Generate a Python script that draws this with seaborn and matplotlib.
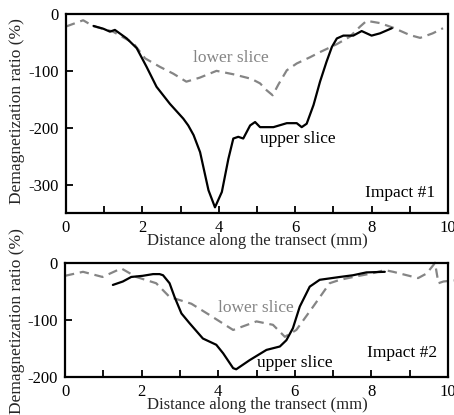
import matplotlib
matplotlib.use("Agg")
import matplotlib.pyplot as plt
import seaborn as sns
import numpy as np

sns.set_style("ticks")
plt.rcParams['font.family'] = ['Liberation Serif', 'DejaVu Serif']

# ---- Impact #1 data ----
upper1_x = [0.72, 0.98, 1.15, 1.28, 1.59, 1.85, 2.11, 2.37, 2.72, 3.07, 3.2, 3.34, 3.51, 3.73, 3.9,
            4.08, 4.25, 4.38, 4.51, 4.64, 4.82, 4.95, 5.08, 5.43, 5.78, 6.04, 6.17, 6.3, 6.48, 6.65,
            6.82, 6.96, 7.09, 7.26, 7.52, 7.74, 8.0, 8.22, 8.53]
upper1_y = [-21, -26, -31, -28, -43, -60, -93, -128, -158, -184, -196, -213, -243, -310, -340,
            -313, -255, -219, -216, -219, -196, -190, -199, -199, -192, -192, -199, -193, -160, -119,
            -84, -58, -43, -38, -38, -30, -38, -34, -25]
lower1_x = [0, 0.45, 0.7, 1.23, 1.76, 2.07, 2.46, 2.81, 3.15, 3.5, 3.94, 4.38, 4.85, 5.08, 5.25,
            5.41, 5.56, 5.78, 6.04, 6.39, 6.65, 7.09, 7.43, 7.7, 7.87, 8.22, 8.56, 9.0, 9.27, 9.6, 9.87]
lower1_y = [-22, -11, -21, -31, -51, -78, -93, -105, -119, -112, -100, -106, -114, -122, -134,
            -143, -124, -99, -87, -76, -67, -53, -40, -22, -12, -16, -24, -37, -42, -34, -25]

# ---- Impact #2 data ----
upper2_x = [1.25, 1.51, 1.73, 2.03, 2.3, 2.47, 2.56, 2.73, 2.86, 3.04, 3.25, 3.6, 3.95, 4.13, 4.39,
            4.47, 4.82, 5.26, 5.61, 5.78, 5.95, 6.13, 6.39, 6.65, 7.18, 7.52, 7.87, 8.35]
upper2_y = [-39, -33, -25, -23, -20, -20, -22, -36, -60, -89, -106, -133, -144, -159, -185,
            -187, -171, -153, -147, -136, -115, -77, -42, -30, -25, -22, -17, -16]
lower2_x = [0, 0.47, 0.98, 1.47, 1.86, 2.38, 2.73, 3.3, 3.78, 4.39, 5.0, 5.43, 5.74, 6.04, 6.48,
            6.91, 7.18, 7.6, 8.0, 8.35, 8.57, 9.22, 9.44, 9.62, 9.66, 9.75, 9.88, 10.15]
lower2_y = [-23, -16, -25, -10, -25, -36, -60, -72, -92, -118, -103, -109, -130, -118, -77,
            -36, -30, -24, -19, -13, -16, -27, -19, -4, 0, -36, -33, -31]

xticks = list(range(0, 11))
xticklabels = ['0', '', '2', '', '4', '', '6', '', '8', '', '10']
yticks1 = [0, -100, -200, -300]
yticklabels1 = ['0', '-100', '-200', '-300']
yticks2 = [0, -100, -200]
yticklabels2 = ['0', '-100', '-200']

W, H = 454, 415
fig = plt.figure(figsize=(W / 100, H / 100), dpi=100)
fig.patch.set_facecolor('white')

ax1 = fig.add_axes([66 / W, 1 - 213 / H, 382 / W, 199 / H])
ax2 = fig.add_axes([65 / W, 1 - 376.7 / H, 383 / W, 114 / H])

gray = '#858585'
dash = (0, (4.2, 2.6))

for ax, ux, uy, lx, ly in [(ax1, upper1_x, upper1_y, lower1_x, lower1_y),
                           (ax2, upper2_x, upper2_y, lower2_x, lower2_y)]:
    sns.lineplot(x=lx, y=ly, ax=ax, color=gray, linewidth=1.6, sort=False,
                 estimator=None, linestyle=dash)
    sns.lineplot(x=ux, y=uy, ax=ax, color='black', linewidth=1.6, sort=False, estimator=None)
    for ln in ax.lines:
        ln.set_clip_on(False)
    ax.set_xlim(0, 10)
    ax.set_xticks(xticks)
    ax.set_xticklabels(xticklabels)
    ax.tick_params(direction='in', length=5, width=1.3, labelsize=12, pad=5, colors='black')
    for s in ax.spines.values():
        s.set_linewidth(1.6)
        s.set_color('black')
        s.set_visible(True)
    ax.set_xlabel('')
    ax.set_ylabel('')
    ax.set_facecolor('white')

ax1.set_ylim(-350, 0)
ax1.set_yticks(yticks1)
ax1.set_yticklabels(yticklabels1)
ax2.set_ylim(-200, 0)
ax2.set_yticks(yticks2)
ax2.set_yticklabels(yticklabels2)

fs = 12.5
ax1.text(4.31, -78, 'lower slice', color=gray, fontsize=fs, ha='center', va='center')
ax1.text(6.08, -219, 'upper slice', color='black', fontsize=fs, ha='center', va='center')
ax1.text(9.66, -314, 'Impact #1', color='black', fontsize=fs, ha='right', va='center')
ax2.text(4.98, -80, 'lower slice', color=gray, fontsize=fs, ha='center', va='center')
ax2.text(6.0, -176, 'upper slice', color='black', fontsize=fs, ha='center', va='center')
ax2.text(9.72, -159, 'Impact #2', color='black', fontsize=fs, ha='right', va='center')

fig.text(257 / W, 1 - 241 / H, 'Distance along the transect (mm)', fontsize=12, ha='center', va='center')
fig.text(257 / W, 1 - 405 / H, 'Distance along the transect (mm)', fontsize=12, ha='center', va='center')
fig.text(17 / W, 1 - 111 / H, 'Demagnetization ratio (%)', fontsize=12.5, rotation=90, ha='center', va='center')
fig.text(17 / W, 1 - 321 / H, 'Demagnetization ratio (%)', fontsize=12.5, rotation=90, ha='center', va='center')

fig.savefig('out.png', dpi=100, facecolor='white')
